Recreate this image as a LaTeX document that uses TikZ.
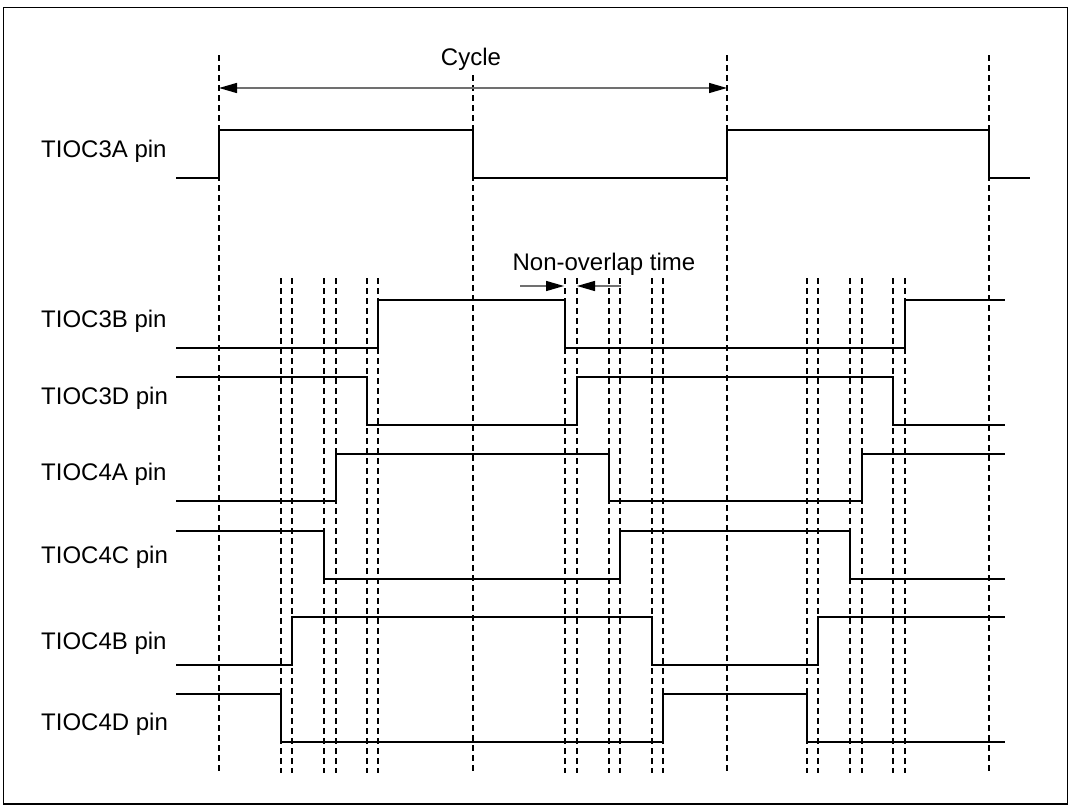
\documentclass[tikz,border=0pt]{standalone}
\usepackage{fontspec}
\setmainfont{Liberation Sans}
\usetikzlibrary{arrows.meta}
\definecolor{tdInk}{HTML}{000000}
\definecolor{tdGrey}{HTML}{707070}

\begin{document}
\begin{tikzpicture}[
    x=1pt, y=-1pt,
    lbl/.style={anchor=base west, font=\fontsize{24}{28}\selectfont, text=tdInk, inner sep=0pt},
    ttl/.style={anchor=base, font=\fontsize{24}{28}\selectfont, text=tdInk, inner sep=0pt},
    wave/.style={draw=tdInk, line width=2.4pt, line join=miter},
    guide/.style={draw=tdInk, line width=1.1pt, dash pattern=on 6pt off 4pt},
    dim/.style={draw=tdGrey, line width=1.4pt},
    tip/.style={-{Triangle[length=18pt, width=10pt, tdInk]}},
  ]
  \useasboundingbox (0,0) rectangle (1072,806);
  \draw[tdInk, line width=1.3pt] (3.5,7.5) rectangle (1067.5,804);

  % cycle boundaries and the switching instants
  \foreach \t in {219,727,989} \draw[guide] (\t,55) -- (\t,773);
  \draw[guide] (473,75) -- (473,773);
  \foreach \t in {281,292,324,336,367,378,565,577,609,620,652,663,807,818,850,862,893,905}
    \draw[guide] (\t,278) -- (\t,773);

  % pin names
  \node[lbl] (p3a) at (41,157) {TIOC3A pin};
  \node[lbl] (p3b) at (41,327) {TIOC3B pin};
  \node[lbl] (p3d) at (41,404) {TIOC3D pin};
  \node[lbl] (p4a) at (41,480) {TIOC4A pin};
  \node[lbl] (p4c) at (41,563) {TIOC4C pin};
  \node[lbl] (p4b) at (41,649) {TIOC4B pin};
  \node[lbl] (p4d) at (41,730) {TIOC4D pin};

  % waveforms
  \draw[wave] (176,178) -| (219,130) -| (473,178) -| (727,130) -| (989,178) -- (1030,178);
  \draw[wave] (176,348) -| (378,300) -| (565,348) -| (905,300) -- (1005,300);
  \draw[wave] (176,377) -| (367,425) -| (577,377) -| (893,425) -- (1005,425);
  \draw[wave] (176,501) -| (336,454) -| (609,501) -| (862,454) -- (1005,454);
  \draw[wave] (176,531) -| (324,579) -| (620,531) -| (850,579) -- (1005,579);
  \draw[wave] (176,665) -| (292,617) -| (652,665) -| (818,617) -- (1005,617);
  \draw[wave] (176,694) -| (281,742) -| (663,694) -| (807,742) -- (1005,742);

  % cycle
  \coordinate (cyA) at (219,88);
  \coordinate (cyB) at (727,88);
  \node[ttl] (cyc) at (471,65) {Cycle};
  \draw[dim, tip] (cyc.south |- cyA) -- (cyA);
  \draw[dim, tip] (cyc.south |- cyB) -- (cyB);

  % non-overlap time
  \node[ttl] (nov) at (604,270) {Non-overlap time};
  \coordinate (noA) at (564,286);
  \coordinate (noB) at (577,286);
  \coordinate (noL) at (520,286);
  \coordinate (noR) at (621,286);
  \draw[dim, tip] (noL) -- (noA);
  \draw[dim, tip] (noR) -- (noB);
\end{tikzpicture}
\end{document}
